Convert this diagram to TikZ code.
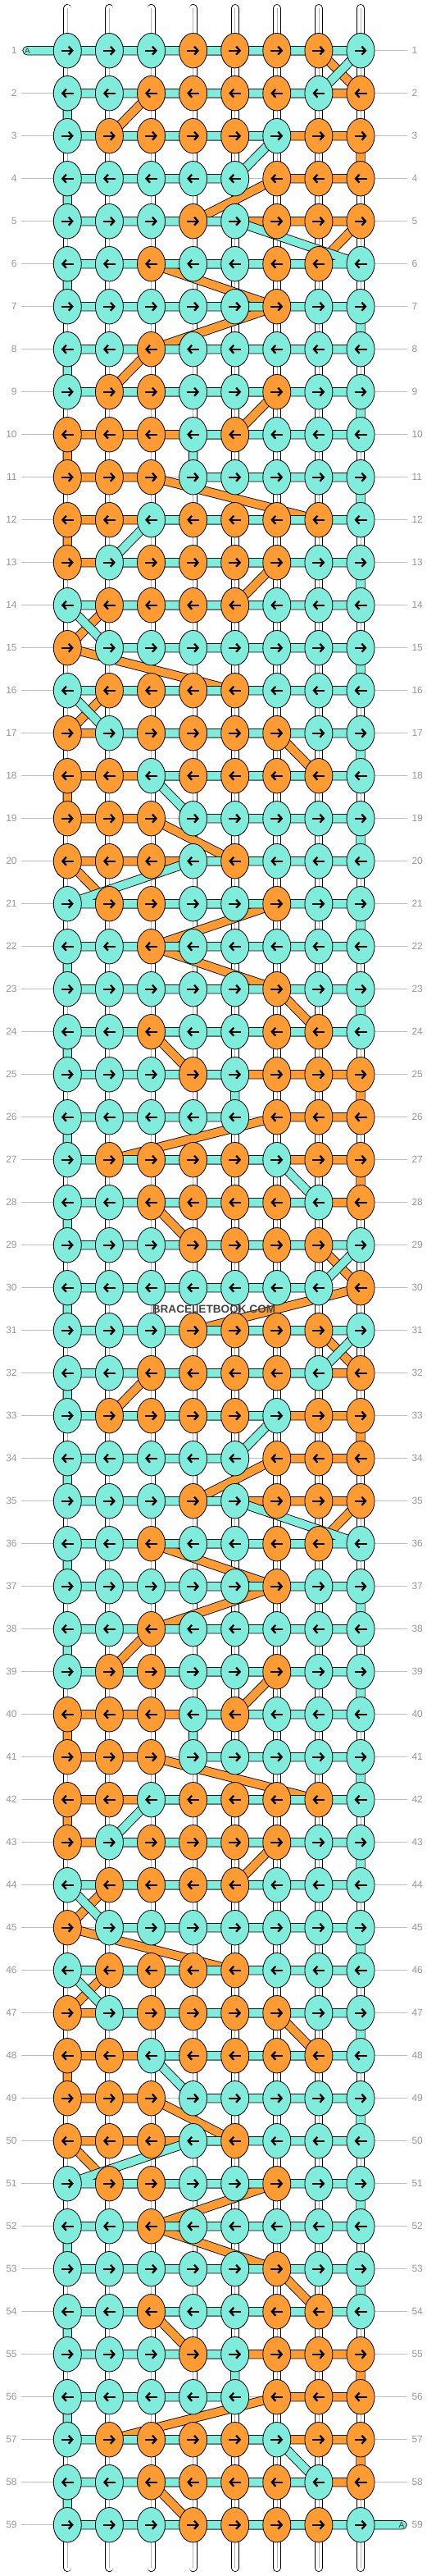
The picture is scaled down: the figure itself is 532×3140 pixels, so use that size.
\documentclass[tikz,border=0pt]{standalone}
\usepackage{fontspec}
\setmainfont{Liberation Sans}
\usetikzlibrary{shapes.geometric, arrows.meta}

\definecolor{aqua}{RGB}{128,236,220}
\definecolor{tang}{RGB}{255,155,51}
\definecolor{numgray}{RGB}{150,150,150}
\definecolor{guidegray}{RGB}{192,192,192}

\pgfdeclarelayer{strings}
\pgfdeclarelayer{threads}
\pgfsetlayers{strings,threads,main}

\tikzstyle{knotbase} = [ellipse, minimum width=34pt, minimum height=42.5pt, inner sep=0pt, draw=black, line width=0.8pt]
\tikzstyle{knot-c} = [knotbase, fill=aqua]
\tikzstyle{knot-o} = [knotbase, fill=tang]
\tikzstyle{knotarrow} = [line width=2.3pt, -{Straight Barb[length=4.5pt,width=10pt]}]
\tikzstyle{rownum} = [inner sep=0pt, text=numgray, font=\fontsize{12}{12}\selectfont]
\tikzstyle{rowguide} = [draw=guidegray, line width=0.8pt]
\tikzstyle{vstring} = [draw=black, line width=0.8pt, double=white, double distance=8.4pt, line cap=round]
\tikzstyle{vcore} = [draw=black!30, line width=0.6pt]
\tikzstyle{cyanthread} = [draw=black, line width=0.85pt, double=aqua, double distance=9.6pt, line join=round, line cap=round]
\tikzstyle{orangethread} = [draw=black, line width=0.85pt, double=tang, double distance=9.6pt, line join=round, line cap=round]
\tikzstyle{endtag} = [inner sep=0pt, text=black!75, font=\fontsize{10}{10}\selectfont]

% knots passed by each background thread, rows 1-29 (repeats from row 31)
\newcommand\cyanpts{1/1,1/8,2/7,2/1,3/1,3/6,4/5,4/1,5/1,5/5,6/8,6/1,7/1,7/8,8/8,8/1,9/1,9/8,10/8,10/4,11/4,11/8,12/8,12/3,13/2,13/8,14/8,14/1,15/2,15/8,16/8,16/1,17/2,17/8,18/8,18/3,19/4,19/8,20/8,20/4,21/1,21/8,22/8,22/1,23/1,23/8,24/8,24/1,25/1,25/5,26/5,26/1,27/1,27/6,28/7,28/1,29/1,29/8}
\newcommand\orangepts{1/4,1/7,2/8,2/3,3/2,3/8,4/8,4/6,5/4,5/8,6/7,6/3,7/6,8/3,9/2,9/6,10/5,10/1,11/1,11/3,12/7,12/1,13/1,13/6,14/5,14/2,15/1,16/5,16/2,17/1,17/6,18/7,18/1,19/1,19/3,20/5,20/1,21/2,21/6,22/3,23/6,24/7,24/3,25/4,25/8,26/8,26/6,27/2,27/8,28/8,28/3,29/4,29/7}

\begin{document}
\begin{tikzpicture}[x=1pt, y=-1pt]
\useasboundingbox (0,0) rectangle (532,3140);

% knots
\foreach \p in {0,30}{
\foreach \r/\row in {
1/{c,c,c,o,o,o,o,c}, 2/{c,c,o,o,o,o,c,o}, 3/{c,o,o,o,o,c,o,o},
4/{c,c,c,c,c,o,o,o}, 5/{c,c,c,o,c,o,o,o}, 6/{c,c,o,c,c,o,o,c},
7/{c,c,c,c,c,o,c,c}, 8/{c,c,o,c,c,c,c,c}, 9/{c,o,o,c,c,o,c,c},
10/{o,o,o,c,o,c,c,c}, 11/{o,o,o,c,c,c,c,c}, 12/{o,o,c,o,o,o,o,c},
13/{o,c,o,o,o,o,c,c}, 14/{c,o,o,o,o,c,c,c}, 15/{o,c,c,c,c,c,c,c},
16/{c,o,o,o,o,c,c,c}, 17/{o,c,o,o,o,o,c,c}, 18/{o,o,c,o,o,o,o,c},
19/{o,o,o,c,c,c,c,c}, 20/{o,o,o,c,o,c,c,c}, 21/{c,o,o,c,c,o,c,c},
22/{c,c,o,c,c,c,c,c}, 23/{c,c,c,c,c,o,c,c}, 24/{c,c,o,c,c,o,o,c},
25/{c,c,c,o,c,o,o,o}, 26/{c,c,c,c,c,o,o,o}, 27/{c,o,o,o,o,c,o,o},
28/{c,c,o,o,o,o,c,o}, 29/{c,c,c,o,o,o,o,c}, 30/{c,c,c,c,c,c,c,o}}{
  \pgfmathtruncatemacro\rr{\r+\p}
  \ifnum\rr<60
  \foreach \col [count=\c] in \row {
    \node (k-\rr-\c) [knot-\col] at ({82.3+(\c-1)*51.1},{61.7+(\rr-1)*52}) {};
    \ifodd\rr
      \draw[knotarrow] ([xshift=-7.5pt]k-\rr-\c.center) -- ([xshift=7.5pt]k-\rr-\c.center);
    \else
      \draw[knotarrow] ([xshift=7.5pt]k-\rr-\c.center) -- ([xshift=-7.5pt]k-\rr-\c.center);
    \fi
  }
  \fi
}}

% row numbers
\foreach \r in {1,...,59}{
  \node (nl-\r) [rownum, anchor=east] at (20.8,{61.7+(\r-1)*52}) {\r};
  \node (nr-\r) [rownum, anchor=west] at (502.3,{61.7+(\r-1)*52}) {\r};
}

\begin{pgfonlayer}{strings}
\foreach \c in {1,...,8}{
  \coordinate (top-\c) at ({82.3+(\c-1)*51.1},10);
  \coordinate (bot-\c) at ({82.3+(\c-1)*51.1},3130);
  \draw[vstring] (top-\c) -- (bot-\c);
  \draw[vcore] (top-\c) -- (bot-\c);
}
\foreach \r in {1,...,59}
  \draw[rowguide] ([xshift=5.3pt]nl-\r.east) -- ([xshift=-5.5pt]nr-\r.west);
\end{pgfonlayer}

\begin{pgfonlayer}{threads}
\draw[orangethread] (k-1-4.center)
  \foreach \r/\c in \orangepts {-- (k-\r-\c.center)} -- (k-30-8.center)
  \foreach \r/\c [evaluate=\r as \rr using int(\r+30)] in \orangepts {-- (k-\rr-\c.center)};
\coordinate (startA) at (33,61.7);
\coordinate (endA) at (491,3077.7);
\draw[cyanthread] (startA)
  \foreach \r/\c in \cyanpts {-- (k-\r-\c.center)} -- (k-30-7.center) -- (k-30-1.center)
  \foreach \r/\c [evaluate=\r as \rr using int(\r+30)] in \cyanpts {-- (k-\rr-\c.center)} -- (endA);
\end{pgfonlayer}

\node (tagin) [endtag] at (33.5,61.7) {A};
\node (tagout) [endtag] at (490,3077.7) {A};
\node (mark) [font=\fontsize{13.6}{13.6}\selectfont\bfseries, text=black!72] at (261,1596) {BRACELETBOOK.COM};
\end{tikzpicture}
\end{document}
